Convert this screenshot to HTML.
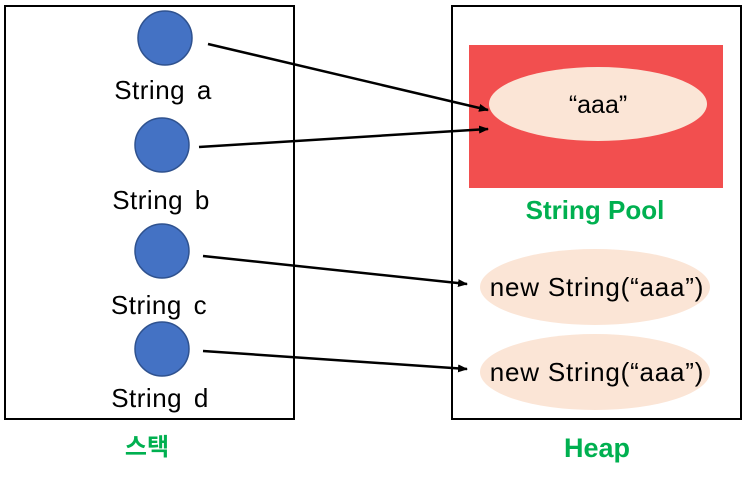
<!DOCTYPE html>
<html><head><meta charset="utf-8"><style>body{margin:0;background:#fff}</style></head><body>
<svg width="750" height="475" viewBox="0 0 750 475" xmlns="http://www.w3.org/2000/svg" font-family="'Liberation Sans','Noto Sans CJK KR',sans-serif">
<defs><marker id="ar" markerWidth="10" markerHeight="8" refX="9" refY="4" orient="auto" markerUnits="userSpaceOnUse"><path d="M0,0 L10,4 L0,8 z" fill="#000"/></marker></defs>
<rect x="5" y="6" width="289" height="413" fill="none" stroke="#000" stroke-width="2"/>
<rect x="452" y="6" width="289" height="413" fill="none" stroke="#000" stroke-width="2"/>
<g fill="#4472c4" stroke="#2f528f" stroke-width="1.5">
<circle cx="165" cy="38" r="27"/><circle cx="162" cy="145" r="27"/><circle cx="162" cy="251" r="27"/><circle cx="162" cy="349" r="27"/></g>
<g font-size="26" text-anchor="middle" fill="#000" word-spacing="4" letter-spacing="0.5">
<text x="163" y="99">String a</text><text x="161" y="209">String b</text><text x="159" y="314">String c</text><text x="160" y="407">String d</text></g>
<rect x="469" y="45" width="254" height="143" fill="#f24f4f"/>
<ellipse cx="598" cy="104" rx="109" ry="37" fill="#fbe5d6"/>
<text x="598" y="113" font-size="25" text-anchor="middle">“aaa”</text>
<text x="595" y="219" font-size="26" font-weight="bold" fill="#00b050" text-anchor="middle">String Pool</text>
<ellipse cx="595" cy="287" rx="115" ry="38" fill="#fbe5d6"/>
<ellipse cx="595" cy="372" rx="115" ry="38" fill="#fbe5d6"/>
<text x="597" y="296" font-size="26" text-anchor="middle" letter-spacing="0.8">new String(“aaa”)</text>
<text x="597" y="381" font-size="26" text-anchor="middle" letter-spacing="0.8">new String(“aaa”)</text>
<g stroke="#000" stroke-width="2.5" marker-end="url(#ar)">
<line x1="208" y1="44" x2="488" y2="110"/><line x1="199" y1="147" x2="488" y2="129"/>
<line x1="203" y1="256" x2="467" y2="284"/><line x1="203" y1="351" x2="467" y2="369"/></g>
<text x="147" y="455" font-size="24" font-weight="bold" fill="#00b050" text-anchor="middle">스택</text>
<text x="597" y="457" font-size="27" font-weight="bold" fill="#00b050" text-anchor="middle">Heap</text>
</svg>
</body></html>
